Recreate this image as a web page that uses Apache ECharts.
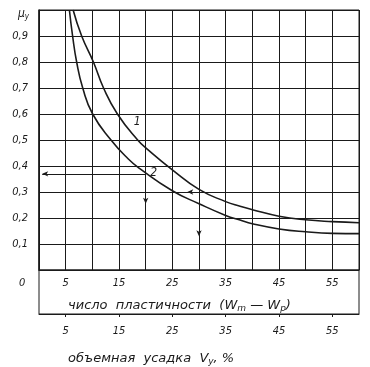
<!DOCTYPE html>
<html><head><meta charset="utf-8">
<script src="https://cdn.jsdelivr.net/npm/echarts@6/dist/echarts.min.js"></script>
<style>html,body{margin:0;padding:0;background:#fff}#c{width:370px;height:367px}</style>
</head><body><div id="c"></div>
<script>
// Curve 1 (upper) and curve 2 (lower): x = plasticity index, y = mu_y
const curve1X = [6.4, 8.0, 10.2, 12.1, 14.7, 18.5, 20.4, 25, 30, 35, 37.7, 40, 45, 50, 55, 60];
const curve1Y = [1.0, 0.9, 0.8, 0.7, 0.6, 0.5, 0.463, 0.385, 0.31, 0.263, 0.245, 0.232, 0.207, 0.193, 0.186, 0.182];
const curve2X = [5.7, 6.3, 7.06, 8.2, 10.06, 13.5, 16.7, 18.9, 25, 30, 35, 37.7, 40, 45, 50, 55, 60];
const curve2Y = [1.0, 0.9, 0.8, 0.7, 0.6, 0.5, 0.428, 0.39, 0.305, 0.255, 0.21, 0.192, 0.178, 0.158, 0.147, 0.141, 0.14];
const xTickLabels = [5, 15, 25, 35, 45, 55];
const yTickLabels = [0.1, 0.2, 0.3, 0.4, 0.5, 0.6, 0.7, 0.8, 0.9];
// reading arrows: [from, to]
const arrows = [
  [[20, 0.37], [0.6, 0.37]],
  [[20, 0.37], [20, 0.255]],
  [[30, 0.30], [27.8, 0.30]],
  [[30, 0.30], [30, 0.13]]
];
const curveLabels = [["1", 18.4, 0.57], ["2", 21.5, 0.375]];

const FONT = "'DejaVu Sans Condensed','DejaVu Sans',sans-serif";
const TFONT = "'DejaVu Sans',sans-serif";
const INK = '#1a1a1a';
const zip = (xs, ys) => xs.map((x, i) => [x, ys[i]]);

const chart = echarts.init(document.getElementById('c'), null, {renderer: 'canvas'});
chart.setOption({
  animation: false,
  grid: [
    {left: 39, right: 11, top: 10, bottom: 97, show: true, borderColor: INK, borderWidth: 1},
    {left: 39, right: 11, top: 270, height: 44, show: true, borderColor: INK, borderWidth: 1}
  ],
  xAxis: [
    {type: 'value', gridIndex: 0, min: 0, max: 60, interval: 5,
     axisLine: {show: true, lineStyle: {color: INK, width: 1}},
     axisTick: {show: false},
     splitLine: {show: true, lineStyle: {color: INK, width: 1}},
     axisLabel: {margin: 8, color: INK, fontFamily: FONT, fontStyle: 'italic', fontSize: 11,
       formatter: v => xTickLabels.includes(v) ? String(v) : ''}},
    {type: 'value', gridIndex: 1, min: 0, max: 60, interval: 5,
     axisLine: {show: true, lineStyle: {color: INK, width: 1}},
     axisTick: {show: true, length: 3, lineStyle: {color: INK}, customValues: xTickLabels},
     splitLine: {show: false},
     axisLabel: {margin: 12, color: INK, fontFamily: FONT, fontStyle: 'italic', fontSize: 11,
       formatter: v => xTickLabels.includes(v) ? String(v) : ''}}
  ],
  yAxis: [
    {type: 'value', gridIndex: 0, min: 0, max: 1, interval: 0.1,
     axisLine: {show: true, lineStyle: {color: INK, width: 1.5}},
     axisTick: {show: false},
     splitLine: {show: true, lineStyle: {color: INK, width: 1}},
     axisLabel: {margin: 11, color: INK, fontFamily: FONT, fontStyle: 'italic', fontSize: 11,
       formatter: v => {
         const r = Math.round(v * 10) / 10;
         return yTickLabels.includes(r) ? r.toFixed(1).replace('.', ',') : '';
       }}},
    {type: 'value', gridIndex: 1, min: 0, max: 1, show: false}
  ],
  series: [
    {type: 'line', xAxisIndex: 0, yAxisIndex: 0, data: zip(curve1X, curve1Y),
     smooth: 0.5, symbol: 'none', lineStyle: {color: INK, width: 1.6}},
    {type: 'line', xAxisIndex: 0, yAxisIndex: 0, data: zip(curve2X, curve2Y),
     smooth: 0.5, symbol: 'none', lineStyle: {color: INK, width: 1.6}},
    {type: 'line', xAxisIndex: 0, yAxisIndex: 0, data: [], silent: true,
     markLine: {silent: true, symbol: ['none', 'arrow'], symbolSize: [4, 6],
       lineStyle: {color: INK, width: 1, type: 'solid'}, label: {show: false},
       data: arrows.map(a => [{coord: a[0]}, {coord: a[1]}])},
     markPoint: {silent: true, symbol: 'circle', symbolSize: 0,
       label: {show: true, color: INK, fontFamily: FONT, fontStyle: 'italic', fontSize: 12},
       data: curveLabels.map(c => ({coord: [c[1], c[2]], value: c[0],
         label: {formatter: c[0]}}))}}
  ],
  graphic: [
    {type: 'text', left: 18, top: 8, style: {
      text: '{m|μ}{s|у}', fill: INK,
      rich: {m: {fontFamily: FONT, fontStyle: 'italic', fontSize: 12, fill: INK},
             s: {fontFamily: FONT, fontStyle: 'italic', fontSize: 8, fill: INK, verticalAlign: 'bottom', padding: [6, 0, 0, 0]}}}},
    {type: 'text', left: 19, top: 278, style: {
      text: '0', fill: INK, font: "italic 11px " + FONT}},
    {type: 'text', left: 68, top: 299, style: {
      text: '{t|число  пластичности  (W}{s|m}{t| — W}{s|p}{t|)}', fill: INK,
      rich: {t: {fontFamily: TFONT, fontStyle: 'italic', fontSize: 13, fill: INK},
             s: {fontFamily: TFONT, fontStyle: 'italic', fontSize: 9, fill: INK, padding: [6, 0, 0, 0]}}}},
    {type: 'text', left: 68, top: 352, style: {
      text: '{t|объемная  усадка  V}{s|у}{t|, %}', fill: INK,
      rich: {t: {fontFamily: TFONT, fontStyle: 'italic', fontSize: 13, fill: INK},
             s: {fontFamily: TFONT, fontStyle: 'italic', fontSize: 9, fill: INK, padding: [6, 0, 0, 0]}}}}
  ]
});
</script>
</body></html>
